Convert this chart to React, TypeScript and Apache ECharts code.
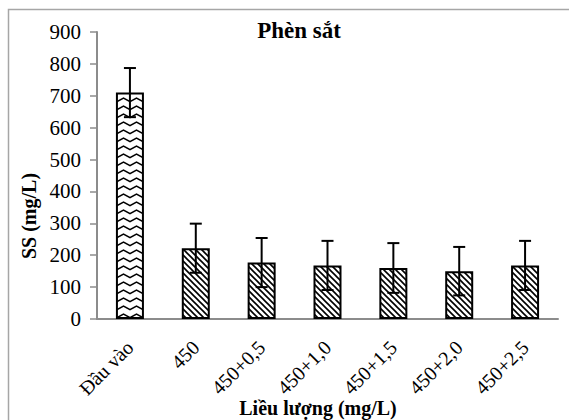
import React, { useEffect, useRef } from "react";
import * as echarts from "echarts";

const categories = ["Đầu vào", "450", "450+0,5", "450+1,0", "450+1,5", "450+2,0", "450+2,5"];
const values = [710, 222, 177, 168, 160, 150, 168];
const errors = [77, 77, 77, 77, 78, 76, 77];
const yTicks = { min: 0, max: 900, interval: 100 };

const FONT = "Liberation Serif";

function makeDiagonal(): HTMLCanvasElement {
  const c = document.createElement("canvas");
  c.width = 6;
  c.height = 6;
  const ctx = c.getContext("2d")!;
  ctx.fillStyle = "#fff";
  ctx.fillRect(0, 0, 6, 6);
  ctx.strokeStyle = "#000";
  ctx.lineWidth = 1.6;
  ctx.beginPath();
  ctx.moveTo(-1, -1);
  ctx.lineTo(7, 7);
  ctx.moveTo(-1, 5);
  ctx.lineTo(1, 7);
  ctx.moveTo(5, -1);
  ctx.lineTo(7, 1);
  ctx.stroke();
  return c;
}

function makeZigzag(): HTMLCanvasElement {
  const c = document.createElement("canvas");
  c.width = 13;
  c.height = 8;
  const ctx = c.getContext("2d")!;
  ctx.fillStyle = "#fff";
  ctx.fillRect(0, 0, 13, 8);
  ctx.strokeStyle = "#000";
  ctx.lineWidth = 1.5;
  ctx.beginPath();
  ctx.moveTo(-1, 6.2);
  ctx.lineTo(6.5, 2.2);
  ctx.lineTo(14, 6.2);
  ctx.stroke();
  return c;
}

export default function App() {
  const ref = useRef<HTMLDivElement>(null);
  useEffect(() => {
    document.body.style.margin = "0";
    const chart = echarts.init(ref.current!, undefined, { renderer: "svg" });
    const diag = makeDiagonal();
    const zig = makeZigzag();
    const barData = values.map((v, i) => ({
      value: v,
      itemStyle: {
        color: { image: i === 0 ? zig : diag, repeat: "repeat" } as any,
      },
    }));
    chart.setOption({
      animation: false,
      backgroundColor: "#fff",
      textStyle: { fontFamily: FONT },
      grid: { left: 97, right: 11, top: 32, bottom: 101, containLabel: false },
      title: {
        text: "Phèn sắt",
        left: 294,
        top: 14,
        textAlign: "center",
        textStyle: { fontFamily: FONT, fontSize: 23, fontWeight: "bold", color: "#000" },
      },
      graphic: [
        {
          type: "rect",
          shape: { x: 8.5, y: 9.5, width: 700, height: 600 },
          style: { fill: "none", stroke: "#a6a6a6", lineWidth: 1.5 },
          silent: true,
        },
        {
          type: "text",
          x: 29,
          y: 216,
          rotation: Math.PI / 2,
          style: {
            text: "SS (mg/L)",
            fontFamily: FONT,
            fontSize: 20,
            fontWeight: "bold",
            fill: "#000",
            align: "center",
            verticalAlign: "middle",
          },
        },
        {
          type: "text",
          x: 318,
          y: 408,
          style: {
            text: "Liều lượng (mg/L)",
            fontFamily: FONT,
            fontSize: 20,
            fontWeight: "bold",
            fill: "#000",
            align: "center",
            verticalAlign: "middle",
          },
        },
      ],
      xAxis: {
        type: "category",
        data: categories,
        axisLine: { show: true, lineStyle: { color: "#8c8c8c", width: 2 } },
        axisTick: { show: false },
        axisLabel: {
          rotate: 45,
          margin: 25,
          interval: 0,
          fontFamily: FONT,
          fontSize: 20,
          color: "#000",
        },
      },
      yAxis: {
        type: "value",
        min: yTicks.min,
        max: yTicks.max,
        interval: yTicks.interval,
        axisLine: { show: true, lineStyle: { color: "#8c8c8c", width: 2 } },
        axisTick: { show: true, length: 7, lineStyle: { color: "#8c8c8c", width: 1.5 } },
        splitLine: { show: false },
        axisLabel: { margin: 16, fontFamily: FONT, fontSize: 21, color: "#000" },
      },
      series: [
        {
          type: "bar",
          data: barData,
          barWidth: 28,
          itemStyle: { borderColor: "#000", borderWidth: 2 },
        },
        {
          type: "custom",
          data: values.map((v, i) => [i, v, errors[i]]),
          z: 10,
          renderItem: (params: any, api: any) => {
            const x = api.value(0);
            const v = api.value(1);
            const e = api.value(2);
            const top = api.coord([x, v + e]);
            const bot = api.coord([x, v - e]);
            const hw = 6;
            const st = { stroke: "#000", lineWidth: 2 };
            return {
              type: "group",
              children: [
                { type: "line", shape: { x1: top[0], y1: top[1], x2: bot[0], y2: bot[1] }, style: st },
                { type: "line", shape: { x1: top[0] - hw, y1: top[1], x2: top[0] + hw, y2: top[1] }, style: st },
                { type: "line", shape: { x1: bot[0] - hw, y1: bot[1], x2: bot[0] + hw, y2: bot[1] }, style: st },
              ],
            };
          },
        },
      ],
    });
    return () => chart.dispose();
  }, []);
  return <div ref={ref} style={{ width: 569, height: 420 }} />;
}
